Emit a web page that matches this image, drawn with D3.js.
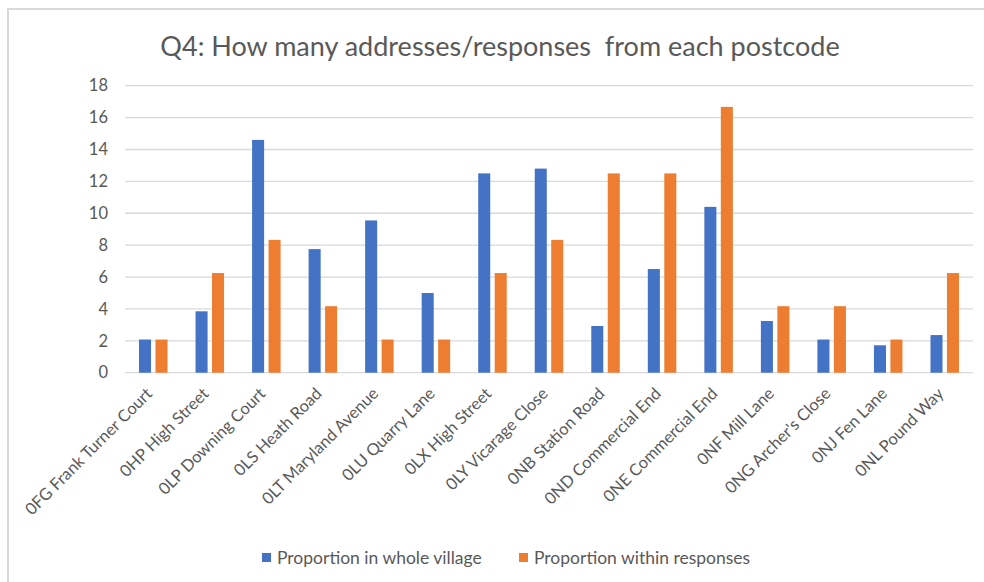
<!DOCTYPE html>
<html>
<head>
<meta charset="utf-8">
<script src="https://cdn.jsdelivr.net/npm/d3@7"></script>
<style>
  html, body { margin: 0; padding: 0; background: #fff; }
  svg text { font-family: Lato, "Noto Sans", sans-serif; fill: #595959; }
</style>
</head>
<body>
<svg id="chart" width="984" height="582"></svg>
<script>
// Postcode areas
const categories = [
  "0FG Frank Turner Court", "0HP High Street", "0LP Downing Court", "0LS Heath Road",
  "0LT Maryland Avenue", "0LU Quarry Lane", "0LX High Street", "0LY Vicarage Close",
  "0NB Station Road", "0ND Commercial End", "0NE Commercial End", "0NF Mill Lane",
  "0NG Archer's Close", "0NJ Fen Lane", "0NL Pound Way"
];
const seriesNames = ["Proportion in whole village", "Proportion within responses"];
// Percentage of all addresses in the village
const wholeVillage = [2.08, 3.85, 14.6, 7.75, 9.55, 5.0, 12.5, 12.8, 2.93, 6.5, 10.4, 3.24, 2.08, 1.72, 2.36];
// Percentage of survey responses
const withinResponses = [2.08, 6.25, 8.33, 4.17, 2.08, 2.08, 6.25, 8.33, 12.5, 12.5, 16.67, 4.17, 4.17, 2.08, 6.25];
const yTicks = [0, 2, 4, 6, 8, 10, 12, 14, 16, 18];
const colors = ["#4472c4", "#ed7d31"];

const svg = d3.select("#chart");

// Outer chart frame (top and left edges)
svg.append("path")
  .attr("d", "M8,582 V9 H984")
  .attr("fill", "none")
  .attr("stroke", "#d9d9d9")
  .attr("stroke-width", 2);

// Title
svg.append("text")
  .attr("x", 500)
  .attr("y", 56)
  .attr("text-anchor", "middle")
  .style("font-size", "27px")
  .style("white-space", "pre")
  .text("Q4: How many addresses/responses  from each postcode");

const plot = { left: 125, right: 973, top: 85.7, bottom: 372.7 };

const x = d3.scaleBand().domain(categories).range([plot.left, plot.right]).padding(0);
const pairWidth = 28.5;
const xs = d3.scaleBand().domain(seriesNames).range([0, pairWidth]).paddingInner(0.27);
const y = d3.scaleLinear().domain([0, 18]).range([plot.bottom, plot.top]);

// Gridlines
svg.append("g")
  .selectAll("line")
  .data(yTicks)
  .join("line")
  .attr("x1", plot.left)
  .attr("x2", plot.right)
  .attr("y1", d => y(d))
  .attr("y2", d => y(d))
  .attr("stroke", "#d9d9d9")
  .attr("stroke-width", 1.3);

// Y axis labels
const yAxis = d3.axisLeft(y).tickValues(yTicks).tickSize(0).tickPadding(0);
svg.append("g")
  .attr("transform", `translate(${plot.left - 17},0)`)
  .call(yAxis)
  .call(g => g.select(".domain").remove())
  .call(g => g.selectAll("text").style("font-size", "16.5px").attr("fill", "#595959"));

// Bars
const rows = categories.map((c, i) => ({ cat: c, values: [wholeVillage[i], withinResponses[i]] }));
const groups = svg.append("g")
  .selectAll("g")
  .data(rows)
  .join("g")
  .attr("transform", d => `translate(${x(d.cat) + (x.bandwidth() - pairWidth) / 2},0)`);

groups.selectAll("rect")
  .data(d => d.values.map((v, k) => ({ name: seriesNames[k], value: v, k })))
  .join("rect")
  .attr("x", d => xs(d.name))
  .attr("width", xs.bandwidth())
  .attr("y", d => y(d.value))
  .attr("height", d => y(0) - y(d.value))
  .attr("fill", d => colors[d.k]);

// X axis category labels, rotated
const xAxis = d3.axisBottom(x).tickSize(0).tickPadding(0);
svg.append("g")
  .attr("transform", `translate(0,${plot.bottom})`)
  .call(xAxis)
  .call(g => g.select(".domain").remove())
  .call(g => g.selectAll("text")
    .style("font-size", "16.5px")
    .attr("fill", "#595959")
    .attr("text-anchor", "end")
    .attr("dy", null)
    .attr("y", null)
    .attr("transform", "translate(0,22) rotate(-45)"));

// Legend
const legend = svg.append("g").attr("transform", "translate(262,557)");
const legendX = [0, 257];
seriesNames.forEach((name, k) => {
  const g = legend.append("g").attr("transform", `translate(${legendX[k]},0)`);
  g.append("rect").attr("x", 0).attr("y", -4).attr("width", 9).attr("height", 9).attr("fill", colors[k]);
  g.append("text").attr("x", 15).attr("y", 7).style("font-size", "17.5px").text(name);
});
</script>
</body>
</html>
